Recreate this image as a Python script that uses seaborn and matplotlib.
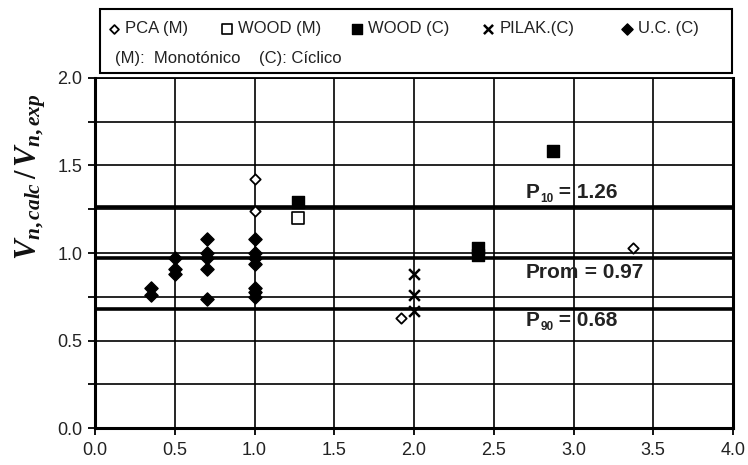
import matplotlib
matplotlib.use("Agg")
import matplotlib.pyplot as plt
from matplotlib.patches import Rectangle
from matplotlib.ticker import MultipleLocator
import seaborn as sns
import pandas as pd

# Measured vs. computed shear strength ratio for each test series
pca_x = [1.0, 1.0, 1.0, 1.92, 3.37]
pca_y = [1.42, 1.24, 0.77, 0.63, 1.03]

wood_m_x = [1.27]
wood_m_y = [1.20]

wood_c_x = [1.27, 2.40, 2.40, 2.87]
wood_c_y = [1.29, 1.03, 0.99, 1.58]

pilak_x = [2.0, 2.0, 2.0]
pilak_y = [0.88, 0.76, 0.67]

uc_x = [0.35, 0.35, 0.5, 0.5, 0.5, 0.7, 0.7, 0.7, 0.7, 0.7,
        1.0, 1.0, 1.0, 1.0, 1.0, 1.0, 1.0]
uc_y = [0.80, 0.76, 0.97, 0.91, 0.88, 1.08, 1.00, 0.97, 0.91, 0.74,
        1.08, 1.00, 0.97, 0.94, 0.80, 0.78, 0.75]

series_names = ["PCA (M)", "WOOD (M)", "WOOD (C)", "PILAK.(C)", "U.C. (C)"]

# Statistics of the ratio
stat_names = ["P", "Prom", "P"]
stat_subs = ["10", "", "90"]
stat_values = [1.26, 0.97, 0.68]
stat_text_y = [1.345, 0.89, 0.615]

x_ticks = [0.0, 0.5, 1.0, 1.5, 2.0, 2.5, 3.0, 3.5, 4.0]
y_ticks = [0.0, 0.5, 1.0, 1.5, 2.0]

frames = []
for name, xs, ys in zip(series_names,
                        [pca_x, wood_m_x, wood_c_x, pilak_x, uc_x],
                        [pca_y, wood_m_y, wood_c_y, pilak_y, uc_y]):
    frames.append(pd.DataFrame({"x": xs, "y": ys, "serie": name}))
df = pd.concat(frames, ignore_index=True)

sns.set_style("white")
plt.rcParams["font.family"] = ["Liberation Sans", "DejaVu Sans"]
plt.rcParams["mathtext.fontset"] = "custom"
plt.rcParams["mathtext.it"] = "Liberation Serif:italic:bold"
plt.rcParams["mathtext.rm"] = "Liberation Serif:bold"
plt.rcParams["mathtext.bf"] = "Liberation Serif:bold"
plt.rcParams["mathtext.sf"] = "Liberation Sans:bold"

W, H = 748, 465
fig = plt.figure(figsize=(W / 100, H / 100), dpi=100)
ax = fig.add_axes([95 / W, 1 - 428 / H, 638 / W, 350 / H])

styles = {
    "PCA (M)": dict(marker="D", s=28, facecolor="white", edgecolor="black", linewidth=1.3),
    "WOOD (M)": dict(marker="s", s=70, facecolor="white", edgecolor="black", linewidth=1.2),
    "WOOD (C)": dict(marker="s", s=75, facecolor="black", edgecolor="black", linewidth=1.0),
    "PILAK.(C)": dict(marker="x", s=60, color="black", linewidth=1.8),
    "U.C. (C)": dict(marker="D", s=45, facecolor="black", edgecolor="black", linewidth=1.0),
}

handles = []
for name in series_names:
    sub = df[df["serie"] == name]
    st = styles[name]
    sns.scatterplot(data=sub, x="x", y="y", ax=ax, zorder=5, legend=False, **st)
    handles.append(ax.collections[-1])

for v in stat_values:
    ax.axhline(v, color="black", lw=2.6, zorder=3)

# Percentile / mean labels: name, small subscript, then "= value"
for nm, sb, v, ty in zip(stat_names, stat_subs, stat_values, stat_text_y):
    t = ax.text(2.70, ty, nm, fontsize=15, fontweight="bold", color="#222222",
                va="center", ha="left", zorder=6)
    if sb:
        t = ax.annotate(sb, xycoords=t, xy=(1, 0), xytext=(0.5, -2),
                        textcoords="offset points", fontsize=8.5,
                        fontweight="bold", color="#222222",
                        va="bottom", ha="left", zorder=6)
    ax.annotate(f" = {v:.2f}", xycoords=t, xy=(1, 0), xytext=(0, 0) if not sb else (0, 2),
                textcoords="offset points", fontsize=15, fontweight="bold",
                color="#222222", va="bottom", ha="left", zorder=6)

ax.set_xlim(0, 4)
ax.set_ylim(0, 2)
ax.set_xticks(x_ticks)
ax.set_xticklabels([f"{t:.1f}" for t in x_ticks])
ax.set_yticks(y_ticks)
ax.set_yticklabels([f"{t:.1f}" for t in y_ticks])
ax.yaxis.set_minor_locator(MultipleLocator(0.25))
ax.grid(True, which="both", color="black", lw=1.2, zorder=1)
ax.set_axisbelow(True)
ax.tick_params(axis="both", which="both", direction="out", length=5, width=1.3,
               color="black", labelsize=13, labelcolor="#222222",
               left=True, bottom=True)
ax.tick_params(axis="x", pad=5)
ax.tick_params(axis="y", pad=4)
for side, sp in ax.spines.items():
    sp.set_visible(True)
    sp.set_color("black")
    sp.set_linewidth(2.2 if side in ("left", "bottom", "right") else 1.3)

ax.set_xlabel("")
ax.set_ylabel(r"$V_{n,calc}\,/\,V_{n,exp}$", fontsize=22, color="#111111")
ax.yaxis.set_label_coords(-0.073, 0.717)

# Legend box above the plot
fig.add_artist(Rectangle((100 / W, 1 - 73 / H), 632 / W, 64 / H,
                         transform=fig.transFigure, fill=False,
                         edgecolor="black", lw=1.5))
marker_centers = [114, 227, 357, 488, 627]
for h, name, c in zip(handles, series_names, marker_centers):
    fig.legend([h], [name], loc="center left", frameon=False,
               bbox_to_anchor=((c - 5.5) / W, 1 - 28.5 / H), fontsize=12,
               handlelength=0.7, handletextpad=0.3, labelcolor="#222222",
               borderaxespad=0, borderpad=0, markerscale=0.85)
fig.text(115 / W, 1 - 58 / H, "(M):  Monotónico    (C): Cíclico",
         fontsize=12, color="#222222", va="center", ha="left")

fig.savefig("out.png", dpi=100, facecolor="white")
